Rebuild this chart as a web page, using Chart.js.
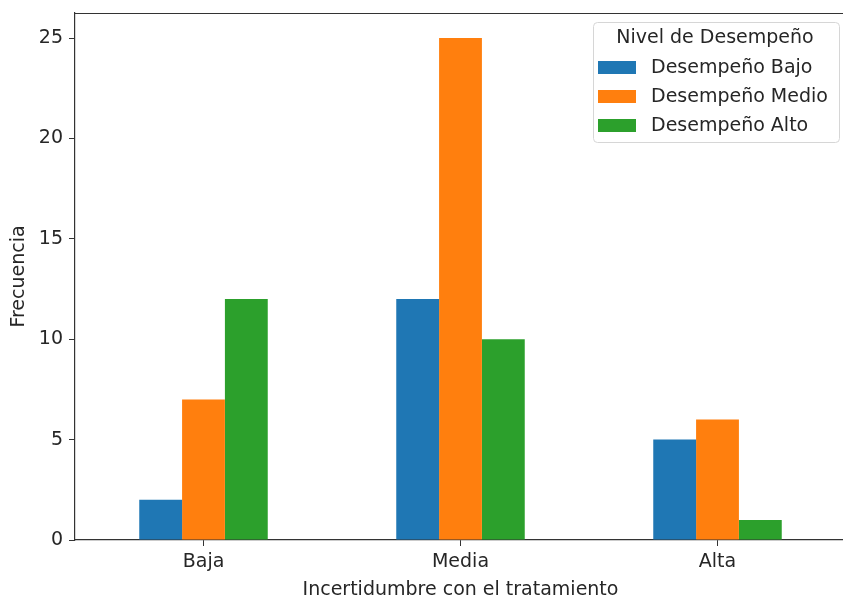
<!DOCTYPE html>
<html><head><meta charset="utf-8">
<script src="https://cdn.jsdelivr.net/npm/chart.js@4"></script>
<style>html,body{margin:0;padding:0;overflow:hidden;background:#fff}#wrap{width:846px;height:597px;position:relative}</style>
</head><body><div id="wrap"><canvas id="c"></canvas></div>
<script>
const categories = ['Baja', 'Media', 'Alta'];
const seriesNames = ['Desempeño Bajo', 'Desempeño Medio', 'Desempeño Alto'];
const desempenoBajo = [2, 12, 5];
const desempenoMedio = [7, 25, 6];
const desempenoAlto = [12, 10, 1];
const yTicks = [0, 5, 10, 15, 20, 25];
const seriesColors = ['#1f77b4', '#ff7f0e', '#2ca02c'];
const legendTitle = 'Nivel de Desempeño';
const xTitle = 'Incertidumbre con el tratamiento';
const yTitle = 'Frecuencia';

const FONT = 'DejaVu Sans';
const FS = 19;
const TXT = '#262626';
const AX = '#333333';

const extras = {
  id: 'extras',
  afterDraw(chart) {
    const ctx = chart.ctx, a = chart.chartArea;
    ctx.save();
    ctx.strokeStyle = AX; ctx.lineWidth = 1.2;
    ctx.beginPath(); ctx.moveTo(a.left, a.top + 0.5); ctx.lineTo(a.right, a.top + 0.5); ctx.stroke();
    const bx = 593, by = 22, bw = 246, bh = 120, r = 4;
    ctx.fillStyle = 'rgba(255,255,255,0.85)';
    ctx.strokeStyle = '#d6d6d6'; ctx.lineWidth = 1;
    ctx.beginPath();
    ctx.roundRect(bx + 0.5, by + 0.5, bw, bh, r);
    ctx.fill(); ctx.stroke();
    ctx.font = FS + 'px "' + FONT + '"';
    ctx.fillStyle = TXT; ctx.textBaseline = 'middle'; ctx.textAlign = 'center';
    ctx.fillText(legendTitle, bx + bw / 2 - 1, 38);
    ctx.textAlign = 'left';
    const rows = [67, 96, 125];
    chart.data.datasets.forEach((ds, i) => {
      ctx.fillStyle = ds.backgroundColor;
      ctx.fillRect(598, rows[i] - 6, 38, 13);
      ctx.fillStyle = TXT;
      ctx.fillText(ds.label, 651, rows[i] + 1);
    });
    ctx.restore();
  }
};

new Chart(document.getElementById('c'), {
  type: 'bar',
  data: {
    labels: categories,
    datasets: [
      { label: seriesNames[0], data: desempenoBajo, backgroundColor: seriesColors[0] },
      { label: seriesNames[1], data: desempenoMedio, backgroundColor: seriesColors[1] },
      { label: seriesNames[2], data: desempenoAlto, backgroundColor: seriesColors[2] }
    ]
  },
  options: {
    responsive: true, maintainAspectRatio: false, animation: false,
    layout: { padding: { top: 13, right: 0, left: 0, bottom: 0 } },
    datasets: { bar: { categoryPercentage: 0.5, barPercentage: 1.0, borderWidth: 0 } },
    plugins: { legend: { display: false }, tooltip: { enabled: false } },
    scales: {
      x: {
        offset: true,
        grid: { offset: false, drawOnChartArea: false, drawTicks: true, tickLength: 6, tickColor: AX, tickWidth: 1 },
        border: { display: true, color: AX, width: 1.2 },
        ticks: { color: TXT, font: { family: FONT, size: FS }, padding: 5, maxRotation: 0 },
        title: { display: true, text: xTitle, color: TXT, font: { family: FONT, size: FS, lineHeight: 1 }, padding: { top: 2, bottom: -3 } },
        afterFit(s) { s.height = 57; s.paddingLeft = 0; s.paddingRight = 0; }
      },
      y: {
        min: 0, max: 26.25,
        afterBuildTicks(s) { s.ticks = yTicks.map(v => ({ value: v })); },
        grid: { drawOnChartArea: false, drawTicks: true, tickLength: 6, tickColor: AX, tickWidth: 1 },
        border: { display: true, color: AX, width: 1.2 },
        ticks: { color: TXT, font: { family: FONT, size: FS }, padding: 6 },
        title: { display: true, text: yTitle, color: TXT, font: { family: FONT, size: FS }, padding: { top: 8, bottom: 4 } },
        afterFit(s) { s.width = 75; s.paddingTop = 0; s.paddingBottom = 0; }
      }
    }
  },
  plugins: [extras]
});
</script>
</body></html>
